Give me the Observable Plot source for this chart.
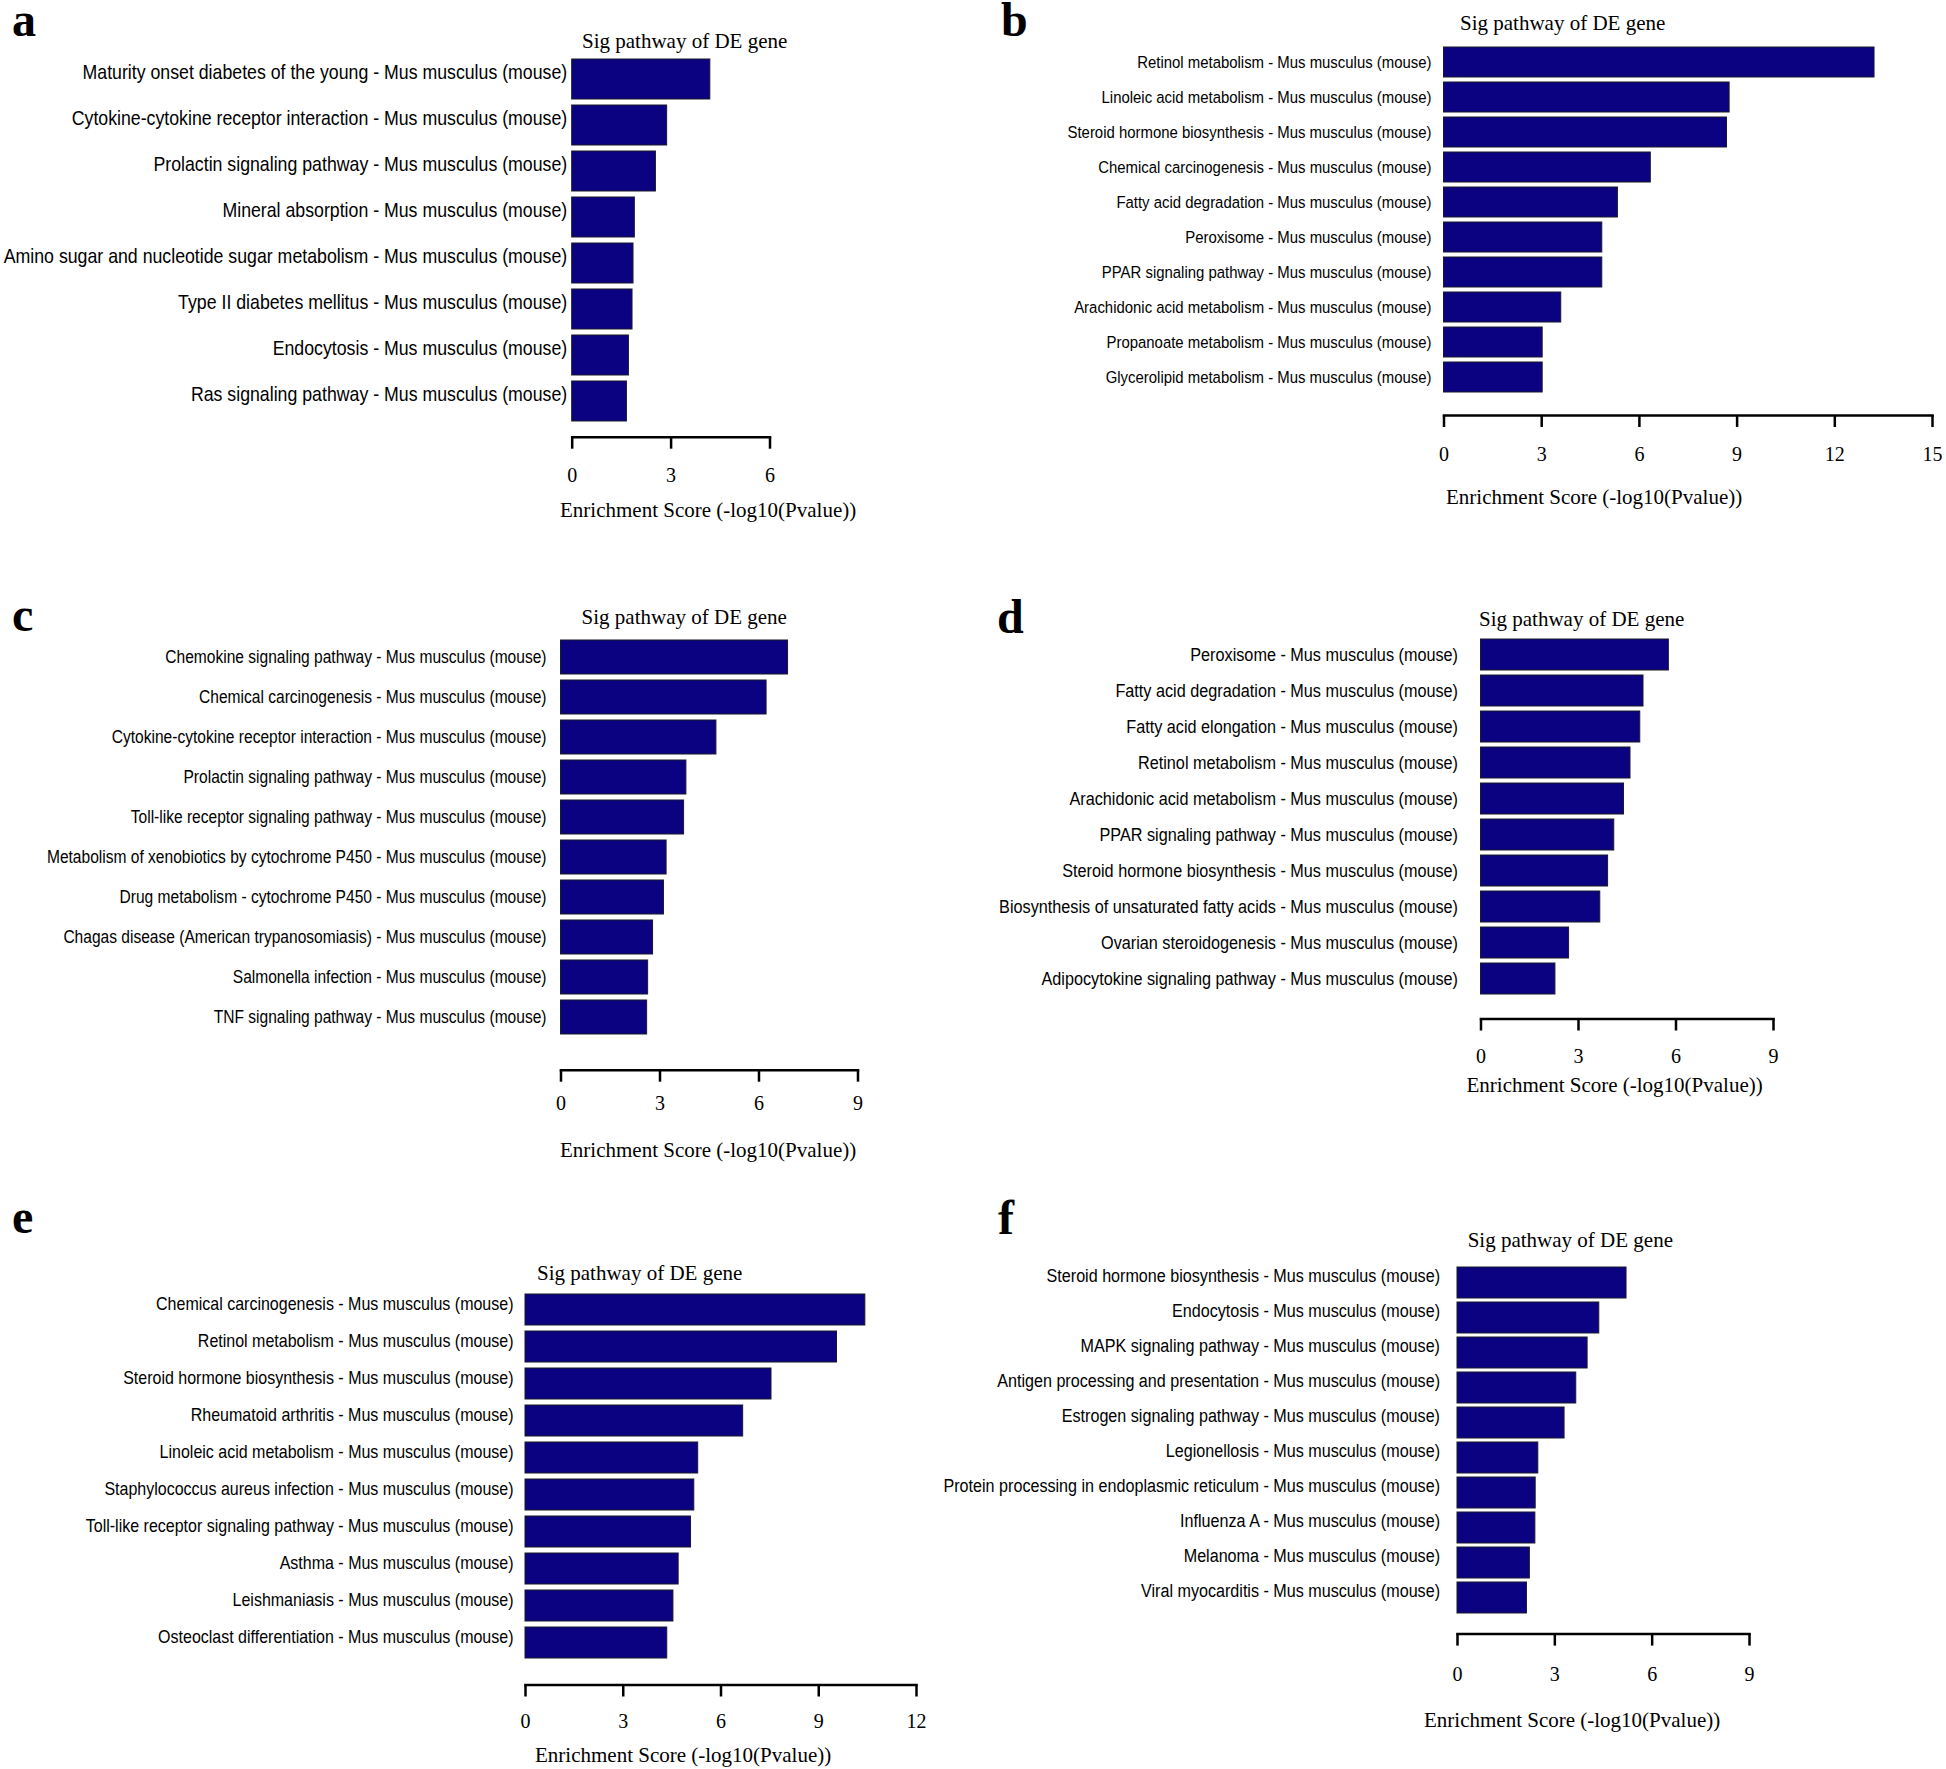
<!DOCTYPE html>
<html>
<head>
<meta charset="utf-8">
<script src="https://cdn.jsdelivr.net/npm/d3@7"></script>
<script src="https://cdn.jsdelivr.net/npm/@observablehq/plot@0.6"></script>
<style>
  html, body { margin: 0; padding: 0; background: #fff; }
  #root { position: relative; width: 1946px; height: 1769px; background: #fff; overflow: hidden; }
  #root svg { position: absolute; }
</style>
</head>
<body>
<div id="root"></div>
<script>
// ---------------- data ----------------
const panelLetters = ["a", "b", "c", "d", "e", "f"];
const titleText = "Sig pathway of DE gene";
const xLabelText = "Enrichment Score (-log10(Pvalue))";

const pathwaysA = [
  "Maturity onset diabetes of the young - Mus musculus (mouse)",
  "Cytokine-cytokine receptor interaction - Mus musculus (mouse)",
  "Prolactin signaling pathway - Mus musculus (mouse)",
  "Mineral absorption - Mus musculus (mouse)",
  "Amino sugar and nucleotide sugar metabolism - Mus musculus (mouse)",
  "Type II diabetes mellitus - Mus musculus (mouse)",
  "Endocytosis - Mus musculus (mouse)",
  "Ras signaling pathway - Mus musculus (mouse)"
];
const scoresA = [4.19, 2.88, 2.54, 1.90, 1.86, 1.83, 1.72, 1.66];
const ticksA = [0, 3, 6];

const pathwaysB = [
  "Retinol metabolism - Mus musculus (mouse)",
  "Linoleic acid metabolism - Mus musculus (mouse)",
  "Steroid hormone biosynthesis - Mus musculus (mouse)",
  "Chemical carcinogenesis - Mus musculus (mouse)",
  "Fatty acid degradation - Mus musculus (mouse)",
  "Peroxisome - Mus musculus (mouse)",
  "PPAR signaling pathway - Mus musculus (mouse)",
  "Arachidonic acid metabolism - Mus musculus (mouse)",
  "Propanoate metabolism - Mus musculus (mouse)",
  "Glycerolipid metabolism - Mus musculus (mouse)"
];
const scoresB = [13.22, 8.77, 8.69, 6.35, 5.34, 4.86, 4.86, 3.60, 3.03, 3.03];
const ticksB = [0, 3, 6, 9, 12, 15];

const pathwaysC = [
  "Chemokine signaling pathway - Mus musculus (mouse)",
  "Chemical carcinogenesis - Mus musculus (mouse)",
  "Cytokine-cytokine receptor interaction - Mus musculus (mouse)",
  "Prolactin signaling pathway - Mus musculus (mouse)",
  "Toll-like receptor signaling pathway - Mus musculus (mouse)",
  "Metabolism of xenobiotics by cytochrome P450 - Mus musculus (mouse)",
  "Drug metabolism - cytochrome P450 - Mus musculus (mouse)",
  "Chagas disease (American trypanosomiasis) - Mus musculus (mouse)",
  "Salmonella infection - Mus musculus (mouse)",
  "TNF signaling pathway - Mus musculus (mouse)"
];
const scoresC = [6.88, 6.23, 4.71, 3.80, 3.73, 3.20, 3.12, 2.79, 2.64, 2.61];
const ticksC = [0, 3, 6, 9];

const pathwaysD = [
  "Peroxisome - Mus musculus (mouse)",
  "Fatty acid degradation - Mus musculus (mouse)",
  "Fatty acid elongation - Mus musculus (mouse)",
  "Retinol metabolism - Mus musculus (mouse)",
  "Arachidonic acid metabolism - Mus musculus (mouse)",
  "PPAR signaling pathway - Mus musculus (mouse)",
  "Steroid hormone biosynthesis - Mus musculus (mouse)",
  "Biosynthesis of unsaturated fatty acids - Mus musculus (mouse)",
  "Ovarian steroidogenesis - Mus musculus (mouse)",
  "Adipocytokine signaling pathway - Mus musculus (mouse)"
];
const scoresD = [5.78, 5.00, 4.90, 4.60, 4.40, 4.10, 3.91, 3.67, 2.71, 2.29];
const ticksD = [0, 3, 6, 9];

const pathwaysE = [
  "Chemical carcinogenesis - Mus musculus (mouse)",
  "Retinol metabolism - Mus musculus (mouse)",
  "Steroid hormone biosynthesis - Mus musculus (mouse)",
  "Rheumatoid arthritis - Mus musculus (mouse)",
  "Linoleic acid metabolism - Mus musculus (mouse)",
  "Staphylococcus aureus infection - Mus musculus (mouse)",
  "Toll-like receptor signaling pathway - Mus musculus (mouse)",
  "Asthma - Mus musculus (mouse)",
  "Leishmaniasis - Mus musculus (mouse)",
  "Osteoclast differentiation - Mus musculus (mouse)"
];
const scoresE = [10.43, 9.56, 7.55, 6.68, 5.30, 5.18, 5.08, 4.70, 4.54, 4.35];
const ticksE = [0, 3, 6, 9, 12];

const pathwaysF = [
  "Steroid hormone biosynthesis - Mus musculus (mouse)",
  "Endocytosis - Mus musculus (mouse)",
  "MAPK signaling pathway - Mus musculus (mouse)",
  "Antigen processing and presentation - Mus musculus (mouse)",
  "Estrogen signaling pathway - Mus musculus (mouse)",
  "Legionellosis - Mus musculus (mouse)",
  "Protein processing in endoplasmic reticulum - Mus musculus (mouse)",
  "Influenza A - Mus musculus (mouse)",
  "Melanoma - Mus musculus (mouse)",
  "Viral myocarditis - Mus musculus (mouse)"
];
const scoresF = [5.21, 4.37, 4.01, 3.66, 3.30, 2.49, 2.41, 2.40, 2.23, 2.14];
const ticksF = [0, 3, 6, 9];

// ---------------- styling / layout ----------------
const SANS = "'Liberation Sans', Arial, sans-serif";
const SERIF = "'Liberation Serif', 'Times New Roman', serif";
const BAR_FILL = "#0b0282";
const BAR_STROKE = "#1a1a2a";

const layouts = [
  {x0: 571.7, x1: 769.5, barsTop: 57.3, barsBottom: 424.7, axisY: 437, svgLeft: 0, svgRight: 973, pad: 0.12,
   labelSize: 19.8, narrow: 0.896, labelDy: -7, gap: 5, tickPad: 18.5,
   letter: [12, 36], title: [582, 47.5], xlabel: [560, 517]},
  {x0: 1443.5, x1: 1932, barsTop: 44.5, barsBottom: 393.6, axisY: 414.5, svgLeft: 973, svgRight: 1946, pad: 0.13,
   labelSize: 17.2, narrow: 0.868, labelDy: 0, gap: 12.5, tickPad: 19.5,
   letter: [1001, 36], title: [1460, 29.5], xlabel: [1446, 504]},
  {x0: 560.5, x1: 857.5, barsTop: 636, barsBottom: 1039, axisY: 1069.7, svgLeft: 0, svgRight: 973, pad: 0.14,
   labelSize: 17.9, narrow: 0.87, labelDy: 0, gap: 14.5, tickPad: 14,
   letter: [12, 631], title: [581.6, 624], xlabel: [560, 1157]},
  {x0: 1480.5, x1: 1773, barsTop: 637.5, barsBottom: 995, axisY: 1018, svgLeft: 973, svgRight: 1946, pad: 0.137,
   labelSize: 18.7, narrow: 0.868, labelDy: 0, gap: 23, tickPad: 17.5,
   letter: [997, 633], title: [1479, 626], xlabel: [1466.5, 1091.5]},
  {x0: 525, x1: 916, barsTop: 1291.5, barsBottom: 1660, axisY: 1684, svgLeft: 0, svgRight: 973, pad: 0.155,
   labelSize: 18.4, narrow: 0.87, labelDy: -6, gap: 12, tickPad: 17,
   letter: [12, 1233], title: [537, 1279.5], xlabel: [535, 1762]},
  {x0: 1457, x1: 1749, barsTop: 1263, barsBottom: 1617.5, axisY: 1633.6, svgLeft: 900, svgRight: 1946, pad: 0.12,
   labelSize: 18.6, narrow: 0.868, labelDy: -6.5, gap: 17.5, tickPad: 21,
   letter: [998, 1234], title: [1467.7, 1246.5], xlabel: [1424, 1726.5]}
];

const series = [
  [pathwaysA, scoresA, ticksA],
  [pathwaysB, scoresB, ticksB],
  [pathwaysC, scoresC, ticksC],
  [pathwaysD, scoresD, ticksD],
  [pathwaysE, scoresE, ticksE],
  [pathwaysF, scoresF, ticksF]
];

const root = document.getElementById("root");

series.forEach(([names, scores, ticks], i) => {
  const g = layouts[i];
  const data = names.map((name, k) => ({name, score: scores[k]}));
  const top = g.barsTop - 12;
  const bottom = g.axisY + 70;
  const width = g.svgRight - g.svgLeft;
  const height = bottom - top;
  const chart = Plot.plot({
    width, height,
    marginLeft: g.x0 - g.svgLeft,
    marginRight: g.svgRight - g.x1,
    marginTop: g.barsTop - top,
    marginBottom: bottom - g.axisY,
    style: {fontFamily: SANS, fontSize: g.labelSize + "px", color: "#000", background: "transparent", overflow: "visible"},
    x: {domain: [0, d3.max(ticks)], axis: null},
    y: {domain: names, paddingInner: g.pad, paddingOuter: 0, insetBottom: g.axisY - g.barsBottom, axis: null},
    marks: [
      Plot.barX(data, {x: "score", y: "name", fill: BAR_FILL, stroke: BAR_STROKE, strokeWidth: 1}),
      Plot.axisY({tickSize: 0, tickPadding: g.gap, label: null, fontFamily: SANS, fontSize: g.labelSize,
                  fill: "#000", dy: g.labelDy}),
      Plot.axisX({ticks, tickSize: 12, tickPadding: g.tickPad, strokeWidth: 2.5, stroke: "#000", label: null,
                  fontFamily: SERIF, fontSize: 20, fill: "#000", tickFormat: d => String(d)}),
      Plot.frame({anchor: "bottom", stroke: "#000", strokeWidth: 2.5})
    ]
  });
  chart.style.left = g.svgLeft + "px";
  chart.style.top = top + "px";
  root.appendChild(chart);
  // condense the pathway labels to the narrow face used in the figure
  d3.select(chart).selectAll('g[aria-label="y-axis tick label"] text').each(function () {
    const len = this.getComputedTextLength();
    this.setAttribute("textLength", (len * g.narrow).toFixed(2));
    this.setAttribute("lengthAdjust", "spacingAndGlyphs");
  });
});

// overlay: panel letters, panel titles, x-axis labels
const overlay = d3.select(root).append("svg")
  .attr("width", 1946).attr("height", 1769)
  .style("left", "0px").style("top", "0px").style("pointer-events", "none");

layouts.forEach((g, i) => {
  overlay.append("text").attr("x", g.letter[0]).attr("y", g.letter[1])
    .attr("font-family", SERIF).attr("font-weight", "bold").attr("font-size", 48).attr("fill", "#000")
    .text(panelLetters[i]);
  overlay.append("text").attr("x", g.title[0]).attr("y", g.title[1])
    .attr("font-family", SERIF).attr("font-size", 21).attr("fill", "#000")
    .text(titleText);
  overlay.append("text").attr("x", g.xlabel[0]).attr("y", g.xlabel[1])
    .attr("font-family", SERIF).attr("font-size", 21).attr("fill", "#000")
    .text(xLabelText);
});
</script>
</body>
</html>
